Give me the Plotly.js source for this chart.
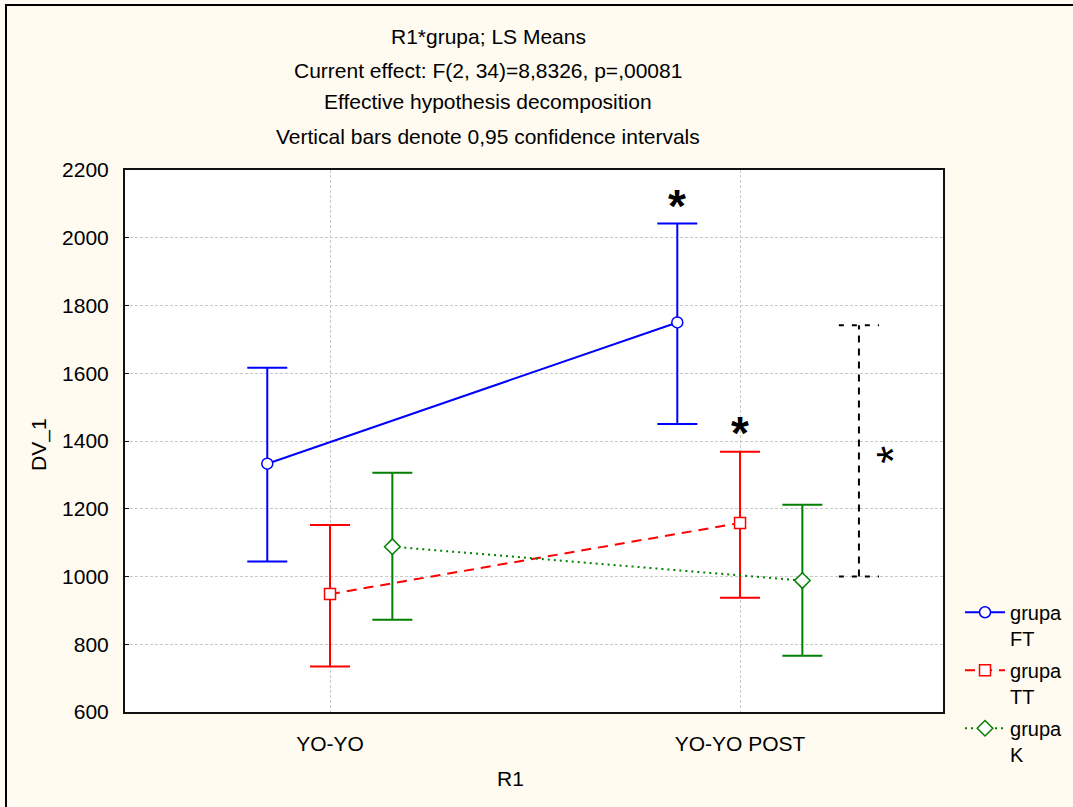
<!DOCTYPE html>
<html>
<head>
<meta charset="utf-8">
<script src="https://cdn.plot.ly/plotly-3.0.1.min.js"></script>
<style>
html,body{margin:0;padding:0;background:#FFFBF0;overflow:hidden;}
#wrap{position:relative;width:1073px;height:807px;overflow:hidden;}
#frame{position:absolute;left:5px;top:4px;width:2000px;height:2000px;border-left:2px solid #000;border-top:2px solid #000;pointer-events:none;}
</style>
</head>
<body>
<div id="wrap"><div id="chart" style="width:1073px;height:807px;"></div><div id="frame"></div></div>
<script>
// ---- data ----
var categories = ["YO-YO", "YO-YO POST"];
var groups = ["grupa<br>FT", "grupa<br>TT", "grupa<br>K"];
var meanFT = [1333, 1750];
var upperFT = [1616, 2042];
var lowerFT = [1044, 1450];
var meanTT = [948, 1158];
var upperTT = [1152, 1368];
var lowerTT = [734, 937];
var meanK = [1088, 988];
var upperK = [1306, 1212];
var lowerK = [872, 766];
var bracketValues = [1000, 1742];
var titleLines = [
  "R1*grupa; LS Means",
  "Current effect: F(2, 34)=8,8326, p=,00081",
  "Effective hypothesis decomposition",
  "Vertical bars denote 0,95 confidence intervals"
];
var yTicks = [600, 800, 1000, 1200, 1400, 1600, 1800, 2000, 2200];

// ---- styles ----
var FONT = "Liberation Sans, Arial, sans-serif";
var offsets = [-0.153, 0, 0.152];
var colors = ["#0000FF", "#FF0000", "#008000"];
var dashes = ["solid", "10px,7px", "2px,4px"];
var symbols = ["circle", "square", "diamond"];
var msizes = [11, 11, 12];
var means = [meanFT, meanTT, meanK];
var uppers = [upperFT, upperTT, upperK];
var lowers = [lowerFT, lowerTT, lowerK];

var traces = groups.map(function (g, gi) {
  var xs = categories.map(function (c, ci) { return ci + offsets[gi]; });
  return {
    type: "scatter",
    mode: "lines+markers",
    name: g,
    legendgroup: "g" + gi,
    x: xs,
    y: means[gi],
    line: {color: colors[gi], width: 2, dash: dashes[gi]},
    marker: {symbol: symbols[gi], size: msizes[gi], color: "#FFFFFF",
             line: {color: colors[gi], width: 1.5}},
    error_y: {
      type: "data", symmetric: false,
      array: means[gi].map(function (m, i) { return uppers[gi][i] - m; }),
      arrayminus: means[gi].map(function (m, i) { return m - lowers[gi][i]; }),
      color: colors[gi], thickness: 2, width: 20
    },
    hoverinfo: "x+y"
  };
});

var bx = 1.29, bcap = 0.049;
var shapes = [
  {type: "line", xref: "x", yref: "y", x0: bx, x1: bx, y0: bracketValues[0], y1: bracketValues[1],
   line: {color: "#000", width: 2, dash: "7px,6px"}},
  {type: "line", xref: "x", yref: "y", x0: bx - bcap, x1: bx + bcap, y0: bracketValues[1], y1: bracketValues[1],
   line: {color: "#000", width: 2, dash: "5px,8px"}},
  {type: "line", xref: "x", yref: "y", x0: bx - bcap, x1: bx + bcap, y0: bracketValues[0], y1: bracketValues[0],
   line: {color: "#000", width: 2, dash: "5px,8px"}}
];

var titleY = [1.247, 1.1845, 1.1255, 1.0627];
var annotations = titleLines.map(function (t, i) {
  return {text: t, xref: "paper", yref: "paper", x: 0.4438, y: titleY[i],
          xanchor: "center", yanchor: "middle", showarrow: false,
          font: {family: FONT, size: 21, color: "#000"}};
});
annotations.push({text: "R1", xref: "paper", yref: "paper", x: 0.4707, y: -0.1218,
  xanchor: "center", yanchor: "middle", showarrow: false, font: {family: FONT, size: 21, color: "#000"}});
annotations.push({text: "DV_1", xref: "paper", yref: "paper", x: -0.1052, y: 0.4945, textangle: -90,
  xanchor: "center", yanchor: "middle", showarrow: false, font: {family: FONT, size: 21, color: "#000"}});
// significance asterisks
annotations.push({text: "<b>*</b>", xref: "x", yref: "y", x: 1 + offsets[0], y: upperFT[1], yanchor: "bottom",
  yshift: -10, showarrow: false, font: {family: FONT, size: 46, color: "#000"}});
annotations.push({text: "<b>*</b>", xref: "x", yref: "y", x: 1 + offsets[1], y: upperTT[1], yanchor: "bottom",
  yshift: -9, showarrow: false, font: {family: FONT, size: 46, color: "#000"}});
annotations.push({text: "*", xref: "x", yref: "y", x: bx, y: (bracketValues[0] + bracketValues[1]) / 2,
  xshift: 34, yshift: -4, textangle: -90, showarrow: false, font: {family: FONT, size: 46, color: "#000"}});

var layout = {
  width: 1073, height: 807,
  margin: {l: 125, r: 130, t: 170, b: 95, pad: 0, autoexpand: false},
  paper_bgcolor: "#FFFBF0",
  plot_bgcolor: "#FFFFFF",
  font: {family: FONT, size: 21, color: "#000"},
  showlegend: true,
  legend: {x: 1.0208, y: 0.22, xanchor: "left", yanchor: "top", valign: "top",
           itemwidth: 40,
           bgcolor: "rgba(0,0,0,0)", traceorder: "grouped", tracegroupgap: 3,
           font: {family: FONT, size: 20, color: "#000"}},
  xaxis: {
    range: [-0.5, 1.495], tickmode: "array", tickvals: [0, 1], ticktext: categories,
    showgrid: true, gridcolor: "#C8C8C8", griddash: "3px,2px", gridwidth: 1,
    zeroline: false, showline: true, mirror: true, linecolor: "#111", linewidth: 2,
    ticks: "", ticklabelstandoff: 12, tickfont: {family: FONT, size: 21, color: "#000"}
  },
  yaxis: {
    range: [600, 2200], tickmode: "array", tickvals: yTicks,
    showgrid: true, gridcolor: "#C8C8C8", griddash: "3px,2px", gridwidth: 1,
    zeroline: false, showline: true, mirror: true, linecolor: "#111", linewidth: 2,
    ticks: "inside", ticklen: 4, tickcolor: "#111", ticklabelstandoff: 10,
    tickfont: {family: FONT, size: 21, color: "#000"}
  },
  shapes: shapes,
  annotations: annotations
};

Plotly.newPlot("chart", traces, layout, {displayModeBar: false, staticPlot: true});
</script>
</body>
</html>
